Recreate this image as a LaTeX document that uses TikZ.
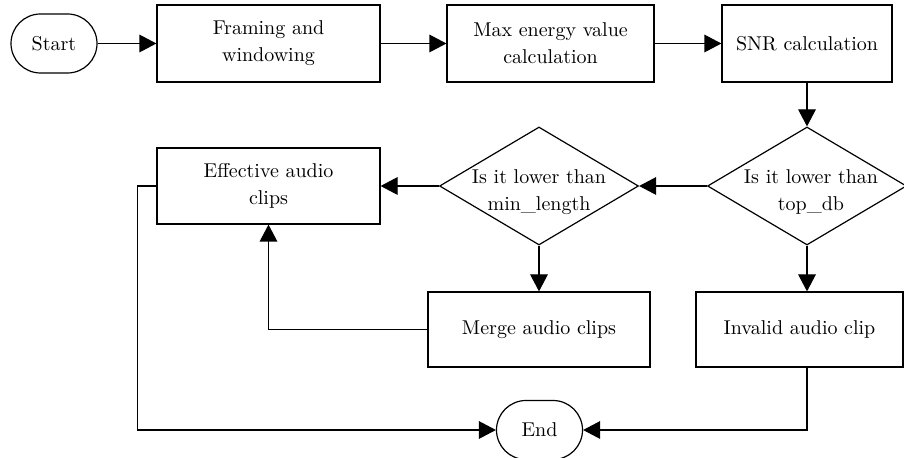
\documentclass[tikz,border=0pt]{standalone}
\usetikzlibrary{shapes.geometric,arrows.meta}
\tikzset{
  proc/.style={draw,rectangle,align=center,inner sep=2pt},
  term/.style={draw,rounded corners=14.75pt,minimum width=43pt,minimum height=29.5pt},
  decide/.style={draw,diamond,aspect=1.69,inner sep=0pt,minimum width=99.5pt,minimum height=59pt},
  flow/.style={-{Triangle[length=8.5pt,width=8.8pt]}}
}
% text of a diamond, set a little low as in the source
\newcommand{\dtext}[2]{\raisebox{-5.5pt}[0pt][0pt]{\hspace*{#1}\begin{tabular}{@{}c@{}}#2\end{tabular}}}
\begin{document}
\begin{tikzpicture}[semithick,x=0.5pt,y=-0.5pt,font=\fontsize{10}{13.5}\selectfont]
\useasboundingbox (0,0) rectangle (904,458);
% top row
\node[term] (start) at (54,43.5) {Start};
\node[proc,minimum width=111.5pt,minimum height=38.5pt] (frame) at (268.5,43.5) {Framing and\\windowing};
\node[proc,minimum width=103.5pt,minimum height=38.5pt] (maxe) at (550.5,43.5) {Max energy value\\calculation};
\node[proc,minimum width=85pt,minimum height=38.5pt] (snr) at (807,43.5) {SNR calculation};
% middle row
\node[decide] (topdb) at (807,186) {\dtext{4pt}{Is it lower than\\top\_db}};
\node[decide] (minlen) at (539,186) {\dtext{0pt}{Is it lower than\\min\_length}};
\node[proc,minimum width=111.5pt,minimum height=38pt] (eff) at (268.5,186) {Effective audio\\clips};
% bottom row
\node[proc,minimum width=111pt,minimum height=37.5pt] (merge) at (539,329.5) {Merge audio clips};
\node[proc,minimum width=103.5pt,minimum height=37.5pt] (invalid) at (799.5,329.5) {Invalid audio clip};
\node[term] (end) at (539.5,430) {End};
% connectors
\foreach \a/\b in {start/frame,frame/maxe,maxe/snr,snr/topdb,topdb/minlen,minlen/eff,minlen/merge}
  \draw[flow] (\a) -- (\b);
\draw[flow] (topdb.south) -- (topdb.south |- invalid.north);
\draw[flow] (merge.west) -| (eff.south);
\draw[flow] (eff.west) -- ++(-19,0) |- (end.west);
\draw[flow] (topdb.south |- invalid.south) |- (end.east);
\end{tikzpicture}
\end{document}
